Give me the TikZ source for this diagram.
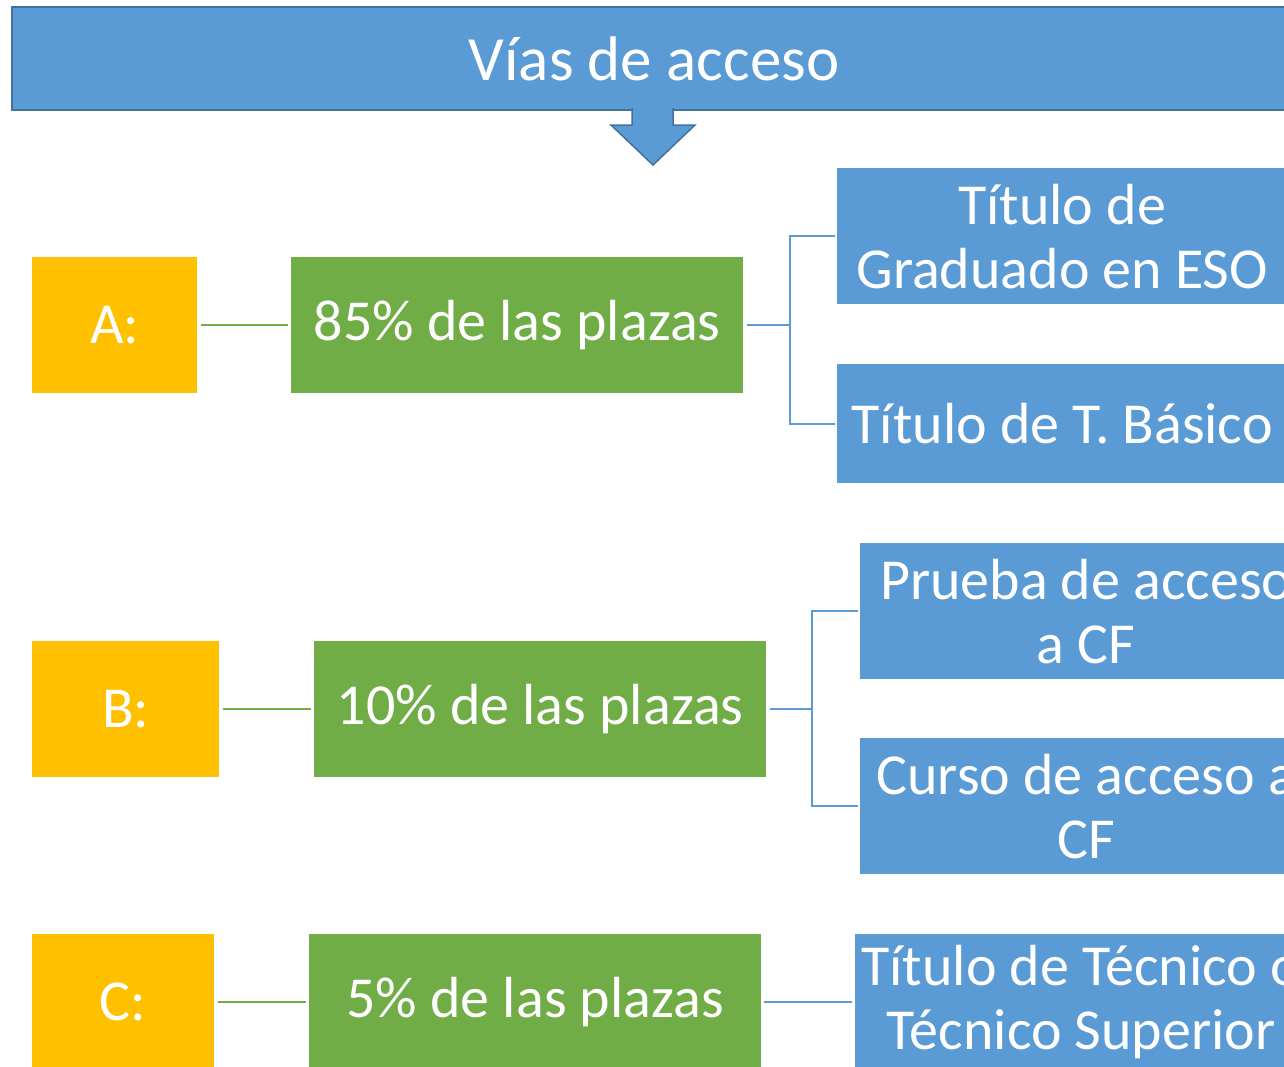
\documentclass[tikz,border=0pt]{standalone}
\usepackage{fontspec}
\setmainfont{Carlito}
\definecolor{blu}{HTML}{5B9BD5}
\definecolor{bludark}{HTML}{41719C}
\definecolor{gold}{HTML}{FFC000}
\definecolor{grn}{HTML}{70AD47}
\tikzset{
  box/.style={inner sep=0pt, anchor=north west, text=white, align=center,
    font=\fontsize{58}{64}\selectfont},
  goldbox/.style={box, fill=gold},
  greenbox/.style={box, fill=grn},
  bluebox/.style={box, fill=blu},
  greenline/.style={draw=grn, line width=2pt},
  blueline/.style={draw=blu, line width=2pt},
}
\begin{document}
\begin{tikzpicture}[x=1pt,y=-1pt]
\useasboundingbox (0,0) rectangle (1284,1066);
\clip (0,0) rectangle (1284,1066);
% title
\node[box, fill=blu, draw=bludark, line width=2pt, minimum width=1284pt, minimum height=103pt,
  font=\fontsize{63}{70}\selectfont] (title) at (11,6) {Vías de acceso};
% arrow
\filldraw[fill=blu, draw=bludark, line width=1.5pt, line join=miter]
  (632,108) -- (632,125) -- (611,125) -- (653,165) -- (695,125) -- (673,125) -- (673,108);
\fill[blu] (633.5,104) rectangle (671.5,112);
% row A
\node[goldbox, minimum width=165pt, minimum height=136pt] (ya) at (32,257) {A:};
\node[greenbox, minimum width=452pt, minimum height=136pt] (ga) at (291,257) {85\% de las plazas};
\node[bluebox, minimum width=450pt, minimum height=136pt] (b1) at (837,168) {Título de\\Graduado en ESO};
\node[bluebox, minimum width=450pt, minimum height=119pt] (b2) at (837,364) {Título de T. Básico};
\draw[greenline, shorten <=4pt, shorten >=3pt] (ya.east) -- (ga.west);
\draw[blueline] ([xshift=4pt]ga.east) -- ([xshift=47pt]ga.east) coordinate (ja);
\draw[blueline] ([xshift=-2pt]b1.west) -| (ja) |- ([xshift=-2pt]b2.west);
% row B
\node[goldbox, minimum width=187pt, minimum height=136pt] (yb) at (32,641) {B:};
\node[greenbox, minimum width=452pt, minimum height=136pt] (gb) at (314,641) {10\% de las plazas};
\node[bluebox, minimum width=452pt, minimum height=136pt] (b3) at (860,543) {Prueba de acceso\\a CF};
\node[bluebox, minimum width=452pt, minimum height=136pt] (b4) at (860,738) {Curso de acceso a\\CF};
\draw[greenline, shorten <=4pt, shorten >=3pt] (yb.east) -- (gb.west);
\draw[blueline] ([xshift=4pt]gb.east) -- ([xshift=46pt]gb.east) coordinate (jb);
\draw[blueline] ([xshift=-2pt]b3.west) -| (jb) |- ([xshift=-2pt]b4.west);
% row C
\node[goldbox, minimum width=182pt, minimum height=136pt] (yc) at (32,934) {C:};
\node[greenbox, minimum width=452pt, minimum height=136pt] (gc) at (309,934) {5\% de las plazas};
\node[bluebox, minimum width=452pt, minimum height=136pt] (b5) at (855,934) {Título de Técnico o\\Técnico Superior};
\draw[greenline, shorten <=4pt, shorten >=3pt] (yc.east) -- (gc.west);
\draw[blueline, shorten <=3pt, shorten >=3pt] (gc.east) -- (b5.west);
\end{tikzpicture}
\end{document}
